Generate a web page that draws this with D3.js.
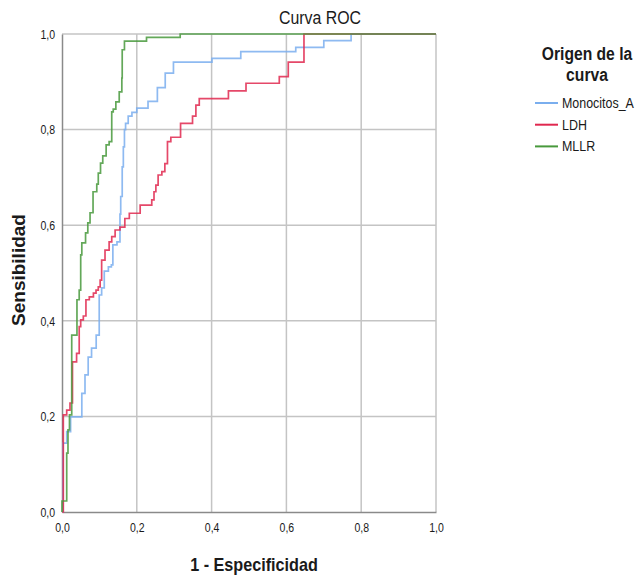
<!DOCTYPE html>
<html>
<head>
<meta charset="utf-8">
<script src="https://cdn.jsdelivr.net/npm/d3@7"></script>
<style>
  body { margin: 0; background: #fff; }
  text { font-family: "Liberation Sans", Arial, sans-serif; fill: #1a1a1a; }
</style>
</head>
<body>
<div id="chart"></div>
<script>
// ROC points (fpr, tpr): top of every vertical step
var mono_fpr = [0, 0.0027, 0.0126, 0.023, 0.053, 0.0615, 0.070, 0.079, 0.0914, 0.0995, 0.106, 0.113, 0.124, 0.132, 0.136, 0.147, 0.155, 0.157, 0.161, 0.164, 0.167, 0.17, 0.177, 0.187, 0.2, 0.23, 0.255, 0.276, 0.298, 0.401, 0.478, 0.625, 0.70, 0.773, 1];
var mono_tpr = [0, 0.144, 0.168, 0.199, 0.248, 0.287, 0.324, 0.343, 0.37, 0.454, 0.469, 0.504, 0.513, 0.517, 0.559, 0.565, 0.623, 0.66, 0.722, 0.764, 0.8, 0.813, 0.828, 0.836, 0.845, 0.859, 0.888, 0.918, 0.941, 0.949, 0.963, 0.972, 0.986, 1, 1];

var ldh_fpr = [0, 0.0035, 0.0126, 0.0214, 0.028, 0.039, 0.046, 0.05, 0.057, 0.064, 0.073, 0.084, 0.091, 0.097, 0.102, 0.106, 0.115, 0.126, 0.133, 0.142, 0.155, 0.168, 0.18, 0.209, 0.24, 0.246, 0.251, 0.257, 0.267, 0.275, 0.282, 0.291, 0.317, 0.349, 0.358, 0.367, 0.445, 0.492, 0.581, 0.605, 0.647, 1];
var ldh_tpr = [0, 0.203, 0.213, 0.228, 0.314, 0.332, 0.388, 0.402, 0.41, 0.444, 0.45, 0.458, 0.464, 0.471, 0.485, 0.527, 0.548, 0.565, 0.576, 0.59, 0.596, 0.614, 0.625, 0.642, 0.653, 0.67, 0.684, 0.705, 0.712, 0.729, 0.775, 0.784, 0.813, 0.828, 0.851, 0.865, 0.881, 0.897, 0.911, 0.941, 1, 1];

var mllr_fpr = [0, 0, 0.0126, 0.016, 0.02, 0.026, 0.04, 0.046, 0.05, 0.053, 0.063, 0.069, 0.075, 0.083, 0.093, 0.097, 0.103, 0.109, 0.118, 0.126, 0.133, 0.137, 0.144, 0.153, 0.16, 0.161, 0.167, 0.226, 0.316, 1];
var mllr_tpr = [0, 0.023, 0.123, 0.172, 0.203, 0.37, 0.444, 0.464, 0.538, 0.563, 0.584, 0.605, 0.626, 0.67, 0.686, 0.709, 0.73, 0.745, 0.768, 0.775, 0.837, 0.843, 0.858, 0.879, 0.908, 0.967, 0.985, 0.993, 1, 1];

var seriesNames = ["Monocitos_A", "LDH", "MLLR"];
var seriesColors = ["#7aaeee", "#e0284f", "#48993c"];
var ticks = [0, 0.2, 0.4, 0.6, 0.8, 1.0];

var width = 641, height = 580;
var plotLeft = 62, plotTop = 34, plotW = 374, plotH = 478;

var svg = d3.select("#chart").append("svg")
    .attr("width", width)
    .attr("height", height);

var x = d3.scaleLinear().domain([0, 1]).range([plotLeft, plotLeft + plotW]);
var y = d3.scaleLinear().domain([0, 1]).range([plotTop + plotH, plotTop]);
var fmt = function (d) { return d3.format(".1f")(d).replace(".", ","); };

// condensed text: the labels in the picture are narrower than Arial
var label = function (g, tx, ty, str, size, sx, anchor, weight, rot) {
    return g.append("text")
        .attr("transform", "translate(" + tx + "," + ty + ")" + (rot ? " rotate(" + rot + ")" : "") + " scale(" + sx + ",1)")
        .attr("text-anchor", anchor)
        .style("font-size", size + "px")
        .style("font-weight", weight || "normal")
        .text(str);
};

// grid
var grid = svg.append("g");
grid.selectAll(".gx").data(ticks.slice(1)).enter().append("line")
    .attr("x1", function (d) { return x(d); }).attr("x2", function (d) { return x(d); })
    .attr("y1", y(0)).attr("y2", y(1))
    .attr("stroke", "#c4c4c4").attr("stroke-width", 1.5);
grid.selectAll(".gy").data(ticks.slice(1)).enter().append("line")
    .attr("y1", function (d) { return y(d); }).attr("y2", function (d) { return y(d); })
    .attr("x1", x(0)).attr("x2", x(1))
    .attr("stroke", "#c4c4c4").attr("stroke-width", 1.5);

// axes
var xAxis = svg.append("g").attr("transform", "translate(0," + y(0) + ")")
    .call(d3.axisBottom(x).tickValues(ticks).tickSize(0).tickPadding(10).tickFormat(fmt));
var yAxis = svg.append("g").attr("transform", "translate(" + x(0) + ",0)")
    .call(d3.axisLeft(y).tickValues(ticks).tickSize(0).tickPadding(7).tickFormat(fmt));
[xAxis, yAxis].forEach(function (a) {
    a.select(".domain").attr("stroke", "#8a8a8a").attr("stroke-width", 1.5);
    a.selectAll("text").style("font-size", "13.5px").style("font-family", "'Liberation Sans', Arial, sans-serif").attr("fill", "#1a1a1a");
});
xAxis.selectAll(".tick text").attr("transform", "scale(0.78,1)");
yAxis.selectAll(".tick text").attr("transform", "translate(-7,0) scale(0.78,1) translate(7,0)");

// curves
var line = d3.line()
    .x(function (d) { return x(d[0]); })
    .y(function (d) { return y(d[1]); })
    .curve(d3.curveStepAfter);

var curves = [
    d3.zip(mono_fpr, mono_tpr),
    d3.zip(ldh_fpr, ldh_tpr),
    d3.zip(mllr_fpr, mllr_tpr)
];
curves.forEach(function (pts, i) {
    svg.append("path")
        .datum(pts)
        .attr("d", line)
        .attr("fill", "none")
        .attr("stroke", seriesColors[i])
        .attr("stroke-width", 1.7)
        .attr("stroke-opacity", 0.85);
});

// titles
label(svg, 320, 24, "Curva ROC", 18.5, 0.86, "middle");
label(svg, 254, 571, "1 - Especificidad", 18, 0.9, "middle", "bold");
label(svg, 25, 270, "Sensibilidad", 19, 1, "middle", "bold", -90);

// legend
var lg = svg.append("g");
label(lg, 587, 60, "Origen de la", 18, 0.87, "middle", "bold");
label(lg, 587, 81, "curva", 18, 0.87, "middle", "bold");
seriesNames.forEach(function (name, i) {
    var ly = 103 + i * 21.7;
    lg.append("line")
        .attr("x1", 535).attr("x2", 558)
        .attr("y1", ly).attr("y2", ly)
        .attr("stroke", seriesColors[i]).attr("stroke-width", 2);
    label(lg, 562, ly + 5, name, 15, 0.83, "start");
});
</script>
</body>
</html>
